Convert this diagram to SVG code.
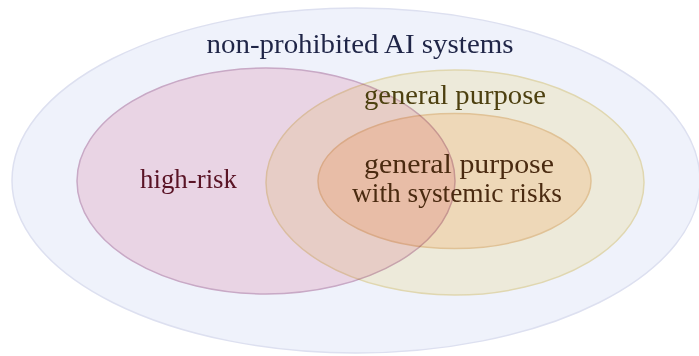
<svg xmlns="http://www.w3.org/2000/svg" width="699" height="356" viewBox="0 0 699 356">
<style>
text{font-family:"Liberation Serif","DejaVu Serif",serif;text-anchor:middle;font-size:28px}
.set{mix-blend-mode:multiply}
</style>
<rect width="699" height="356" fill="#ffffff"/>
<g id="outer">
<ellipse cx="356" cy="180.5" rx="344" ry="172.5" fill="#eff2fb" stroke="#dde0f0" stroke-width="1.5"/>
<text x="360" y="53" fill="#1f2547" textLength="307" lengthAdjust="spacingAndGlyphs">non-prohibited AI systems</text>
</g>
<g id="general-purpose">
<ellipse cx="455" cy="182.5" rx="189" ry="112.5" fill="#eadfb2" fill-opacity="0.45" stroke="#e0d7b0" stroke-width="1.5"/>
</g>
<g id="systemic">
<ellipse cx="454.5" cy="181" rx="136.5" ry="67.5" fill="#f0b679" fill-opacity="0.35" stroke="#e0c296" stroke-width="1.5"/>
</g>
<g id="high-risk">
<ellipse class="set" cx="266" cy="181" rx="189" ry="113" fill="#f9e0e8" stroke="#d6b2c9" stroke-width="1.5"/>
<text x="188.5" y="188" fill="#5a1426" textLength="97" lengthAdjust="spacingAndGlyphs">high-risk</text>
</g>
<g id="labels">
<text x="455" y="104" fill="#4d4010" textLength="182" lengthAdjust="spacingAndGlyphs">general purpose</text>
<text x="459" y="173" fill="#4a2a10" textLength="190" lengthAdjust="spacingAndGlyphs">general purpose</text>
<text x="457" y="202" fill="#4a2a10" textLength="210" lengthAdjust="spacingAndGlyphs">with systemic risks</text>
</g>
<g id="connectors"/>
</svg>
